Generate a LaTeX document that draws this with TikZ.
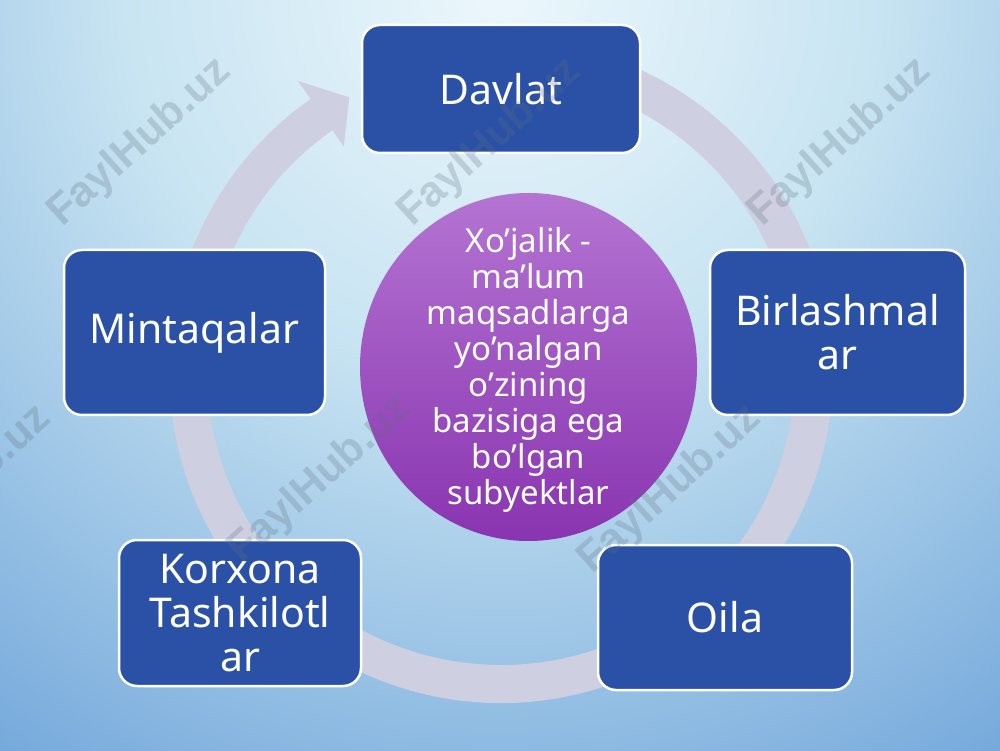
\documentclass[tikz,border=0pt]{standalone}
\usepackage{fontspec}
\setmainfont{Noto Sans}
\newfontfamily\wmfont{Liberation Sans}
\usetikzlibrary{shapes.geometric}
\definecolor{bg1}{RGB}{236,247,252}
\definecolor{bg2}{RGB}{200,228,242}
\definecolor{bg3}{RGB}{112,165,218}
\definecolor{boxblue}{RGB}{42,81,166}
\definecolor{ringc}{RGB}{206,208,225}
\definecolor{purtop}{RGB}{180,116,210}
\definecolor{purbot}{RGB}{137,52,176}
\definecolor{wmc}{RGB}{95,110,125}
\pgfdeclareradialshading{bgsh}{\pgfpoint{0bp}{0bp}}{color(0bp)=(bg1); color(10bp)=(bg2); color(25bp)=(bg3); color(50bp)=(bg3)}
\begin{document}
\begin{tikzpicture}[x=1pt,y=1pt,
  box/.style={rectangle, rounded corners=18pt, draw=white, line width=2.5pt, fill=boxblue, text=white, align=center, inner sep=0pt, font=\fontsize{41}{44}\selectfont},
  hubtext/.style={inner sep=0pt, text=white, align=center, font=\fontsize{33}{36}\selectfont},
  wm/.style={rotate=42, text=wmc, opacity=0.25, font=\wmfont\bfseries\fontsize{43}{43}\selectfont}]
\useasboundingbox (0,0) rectangle (1000,750);
\begin{scope}
\clip (0,0) rectangle (1000,750);
\shade[shading=bgsh] (500,760) circle (950);
\end{scope}
\coordinate (rc) at (501,379);
\fill[ringc] ([shift={(rc)}]105:332) arc[start angle=105,end angle=-235.5,radius=332]
  -- ([shift={(rc)}]124.5:294) arc[start angle=-235.5,end angle=105,radius=294] -- cycle;
\fill[ringc] ([shift={(rc)}]125:354) -- ([shift={(rc)}]119:313) -- ([shift={(rc)}]125:274) -- cycle;
\node[box, minimum width=278pt, minimum height=128pt] (davlat) at (501,661) {Davlat};
\node[box, minimum width=255pt, minimum height=165pt] (birl) at (837.5,417.5) {Birlashmal\\ar};
\node[box, minimum width=254pt, minimum height=145pt] (oila) at (725,132.5) {Oila};
\node[box, minimum width=242pt, minimum height=146pt] (korx) at (240,137) {Korxona\\Tashkilotl\\ar};
\node[box, minimum width=261pt, minimum height=165pt] (mint) at (194.5,417.5) {Mintaqalar};
\coordinate (hc) at (528.5,383);
\shade[top color=purtop, bottom color=purbot] (hc) ellipse [x radius=168.5, y radius=174];
\node[hubtext] (hub) at (528.5,380) {Xo’jalik -\\ma’lum\\maqsadlarga\\yo’nalgan\\o’zining\\bazisiga ega\\bo’lgan\\subyektlar};
\node[wm] (wma) at (140,607) {FaylHub.uz};
\node[wm] (wmb) at (490,607) {FaylHub.uz};
\node[wm] (wmc) at (840,607) {FaylHub.uz};
\node[wm] (wmd) at (-40,260) {FaylHub.uz};
\node[wm] (wme) at (320,270) {FaylHub.uz};
\node[wm] (wmf) at (670,260) {FaylHub.uz};
\end{tikzpicture}
\end{document}
